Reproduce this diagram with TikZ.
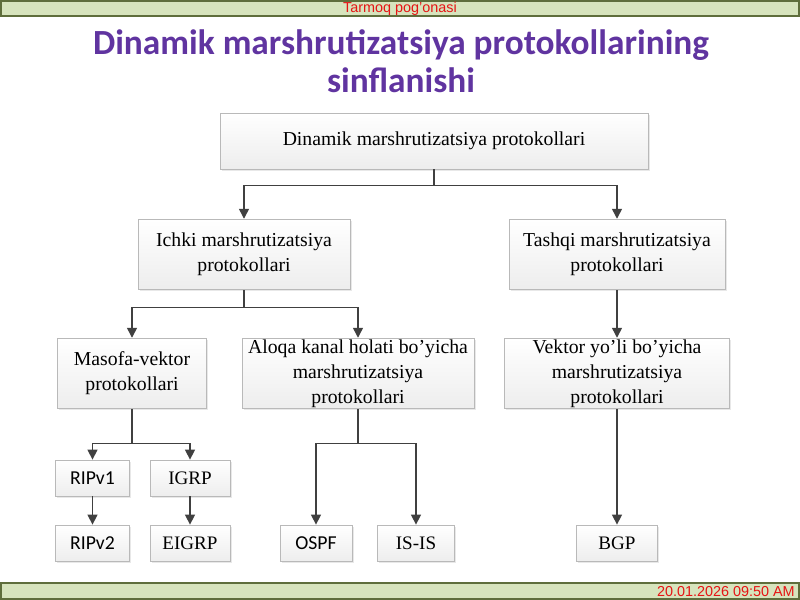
\documentclass[tikz,border=0pt]{standalone}
\usepackage{fontspec}
\setmainfont{Liberation Serif}
\newfontfamily\carlito{Carlito}
\newfontfamily\libsans{Liberation Sans}
\usepackage{tikz}
\usetikzlibrary{arrows,arrows.meta}
\usetikzlibrary{shadows, shadows.blur}
\usetikzlibrary{backgrounds,calc, positioning}
\definecolor{barfill}{RGB}{215,228,189}
\definecolor{barline}{RGB}{95,110,60}
\definecolor{titlepurple}{RGB}{96,52,160}
\definecolor{datered}{RGB}{230,20,20}
\definecolor{linegray}{RGB}{64,64,64}
\tikzset{
    blok/.style={draw=gray!55, line width=0.6pt, top color=white, bottom color=gray!14,
        drop shadow={shadow xshift=1.2pt, shadow yshift=-1.2pt, opacity=0.18, fill=gray},
        align=center, inner sep=1pt, minimum height=#1,
        font=\fontsize{14.8}{18.8}\selectfont},
    blok/.default={53pt},
    kichik/.style={blok=27pt, font=\fontsize{14.3}{16}\selectfont},
    sans/.style={font=\carlito\fontsize{14.8}{16}\selectfont},
    strelka/.style={draw=linegray, line width=1.1pt, -{Triangle[width=7.5pt,length=7.5pt]}},
    bar/.style={fill=barfill, draw=barline, line width=0.8pt}
}
\begin{document}
\begin{tikzpicture}[x=0.75pt, y=-0.75pt]
    \useasboundingbox (0,0) rectangle (800,600);
    % header and footer bars
    \draw[bar] (1,1) rectangle (799,16);
    \node[font=\libsans\fontsize{10.8}{11}\selectfont, text=datered] (header) at (400,9) {Tarmoq pog’onasi};
    \draw[bar] (1,583) rectangle (799,599);
    \node[font=\libsans\fontsize{10.8}{11}\selectfont, text=datered, anchor=east, inner xsep=0pt] (date) at (795,591.5) {20.01.2026 09:50 AM};
    % title
    \node[font=\carlito\bfseries\fontsize{26.5}{28.5}\selectfont, text=titlepurple, align=center] (title) at (401,61)
        {Dinamik marshrutizatsiya protokollarining\\sinflanishi};
    % boxes
    \node[blok=42pt, minimum width=321pt] (dmp) at (434,141) {Dinamik marshrutizatsiya protokollari};
    \node[blok, minimum width=159pt] (ichki) at (244,254.5) {Ichki marshrutizatsiya\\protokollari};
    \node[blok, minimum width=162pt] (tashqi) at (617,254.5) {Tashqi marshrutizatsiya\\protokollari};
    \node[blok, minimum width=112pt] (masofa) at (132,373.5) {Masofa-vektor\\protokollari};
    \node[blok, minimum width=174pt] (aloqa) at (358,373.5) {Aloqa kanal holati bo’yicha\\marshrutizatsiya\\protokollari};
    \node[blok, minimum width=169pt] (vektor) at (617,373.5) {Vektor yo’li bo’yicha\\marshrutizatsiya\\protokollari};
    \node[kichik, sans, minimum width=56pt] (ripv1) at (92.5,478) {RIPv1};
    \node[kichik, minimum width=60pt] (igrp) at (190,478) {IGRP};
    \node[kichik, sans, minimum width=56pt] (ripv2) at (92.5,543) {RIPv2};
    \node[kichik, minimum width=60pt] (eigrp) at (190,543) {EIGRP};
    \node[kichik, sans, minimum width=54pt] (ospf) at (316,543) {OSPF};
    \node[kichik, minimum width=58pt] (isis) at (416,543) {IS-IS};
    \node[kichik, minimum width=61pt] (bgp) at (617,543) {BGP};
    % connectors
    \draw[strelka] (dmp.south) -- ++(0,16) -| (ichki.north);
    \draw[strelka] (dmp.south) -- ++(0,16) -| (tashqi.north);
    \draw[strelka] (ichki.south) -- ++(0,17) -| (masofa.north);
    \draw[strelka] (ichki.south) -- ++(0,17) -| (aloqa.north);
    \draw[strelka] (tashqi.south) -- (vektor.north);
    \draw[strelka] (masofa.south) -- ++(0,34) -| (ripv1.north);
    \draw[strelka] (masofa.south) -- ++(0,34) -| (igrp.north);
    \draw[strelka] (ripv1.south) -- (ripv2.north);
    \draw[strelka] (igrp.south) -- (eigrp.north);
    \draw[strelka] (aloqa.south) -- ++(0,34) -| (ospf.north);
    \draw[strelka] (aloqa.south) -- ++(0,34) -| (isis.north);
    \draw[strelka] (vektor.south) -- (bgp.north);
\end{tikzpicture}
\end{document}
